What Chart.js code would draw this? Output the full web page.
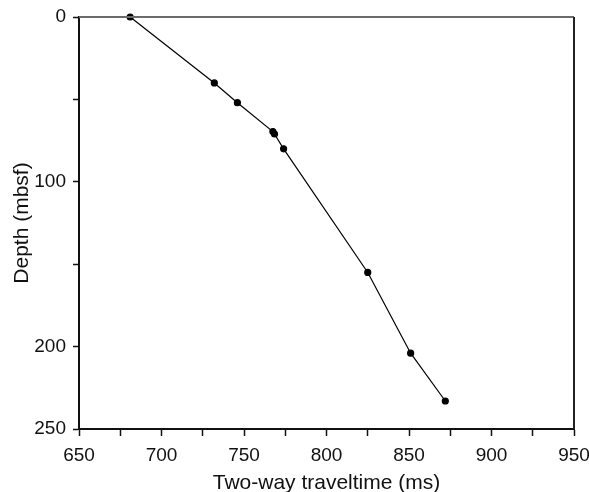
<!DOCTYPE html>
<html>
<head>
<meta charset="utf-8">
<script src="https://cdn.jsdelivr.net/npm/chart.js@4"></script>
<style>
  html, body { margin: 0; padding: 0; background: #fff; }
  #wrap { width: 589px; height: 492px; }
</style>
</head>
<body>
<div id="wrap"><canvas id="depth-chart"></canvas></div>
<script>
// Data
const traveltime = [681, 732, 746, 767.5, 768.5, 774, 825, 851, 872];
const depth = [0, 40, 52, 69.5, 71, 80, 155, 204, 233];
const xTicksLabelled = [650, 700, 750, 800, 850, 900, 950];
const yTicksLabelled = [0, 100, 200, 250];

const points = traveltime.map((t, i) => ({ x: t, y: depth[i] }));

// top and right frame lines
const frame = {
    id: 'frame',
    afterDraw(chart) {
        const { ctx, chartArea: a } = chart;
        ctx.save();
        ctx.lineWidth = 2;
        ctx.strokeStyle = '#6b6b6b';
        ctx.beginPath();
        ctx.moveTo(a.left, a.top);
        ctx.lineTo(a.right, a.top);
        ctx.stroke();
        ctx.strokeStyle = '#222';
        ctx.beginPath();
        ctx.moveTo(a.right, a.top);
        ctx.lineTo(a.right, a.bottom);
        ctx.stroke();
        ctx.restore();
    }
};

const tickFont = { family: 'Liberation Sans, Arial, sans-serif', size: 19 };
const titleFont = { family: 'Liberation Sans, Arial, sans-serif', size: 21 };

const ctx = document.getElementById('depth-chart').getContext('2d');
new Chart(ctx, {
    type: 'scatter',
    data: {
        datasets: [{
            data: points,
            showLine: true,
            clip: false,
            borderColor: '#000',
            borderWidth: 1.2,
            backgroundColor: '#000',
            pointRadius: 3,
            pointHoverRadius: 3,
        }],
    },
    options: {
        responsive: true,
        maintainAspectRatio: false,
        animation: false,
        layout: { padding: { top: 17, right: 15, left: 0, bottom: 0 } },
        plugins: { legend: { display: false }, tooltip: { enabled: false } },
        scales: {
            x: {
                type: 'linear',
                min: 650,
                max: 950,
                afterFit: s => { s.height = 63; s.paddingLeft = 0; s.paddingRight = 0; },
                ticks: {
                    stepSize: 25,
                    autoSkip: false,
                    maxRotation: 0,
                    color: '#111',
                    font: tickFont,
                    padding: 8,
                    callback: v => xTicksLabelled.includes(v) ? String(v) : '',
                },
                grid: { drawOnChartArea: false, tickLength: 7, tickColor: '#111', tickWidth: 1.5 },
                border: { color: '#111', width: 2 },
                title: { display: true, text: 'Two-way traveltime (ms)', font: titleFont, color: '#111', padding: { top: 0, bottom: -4 } },
            },
            y: {
                type: 'linear',
                reverse: true,
                min: 0,
                max: 250,
                afterFit: s => { s.width = 79; s.paddingTop = 0; s.paddingBottom = 0; },
                ticks: {
                    stepSize: 50,
                    autoSkip: false,
                    color: '#111',
                    font: tickFont,
                    padding: 7,
                    callback: v => yTicksLabelled.includes(v) ? String(v) : '',
                },
                grid: { drawOnChartArea: false, tickLength: 6, tickColor: '#111', tickWidth: 1.5 },
                border: { color: '#111', width: 2 },
                title: { display: true, text: 'Depth (mbsf)', font: titleFont, color: '#111', padding: { top: 10, bottom: 0 } },
            },
        },
    },
    plugins: [frame],
});
</script>
</body>
</html>
